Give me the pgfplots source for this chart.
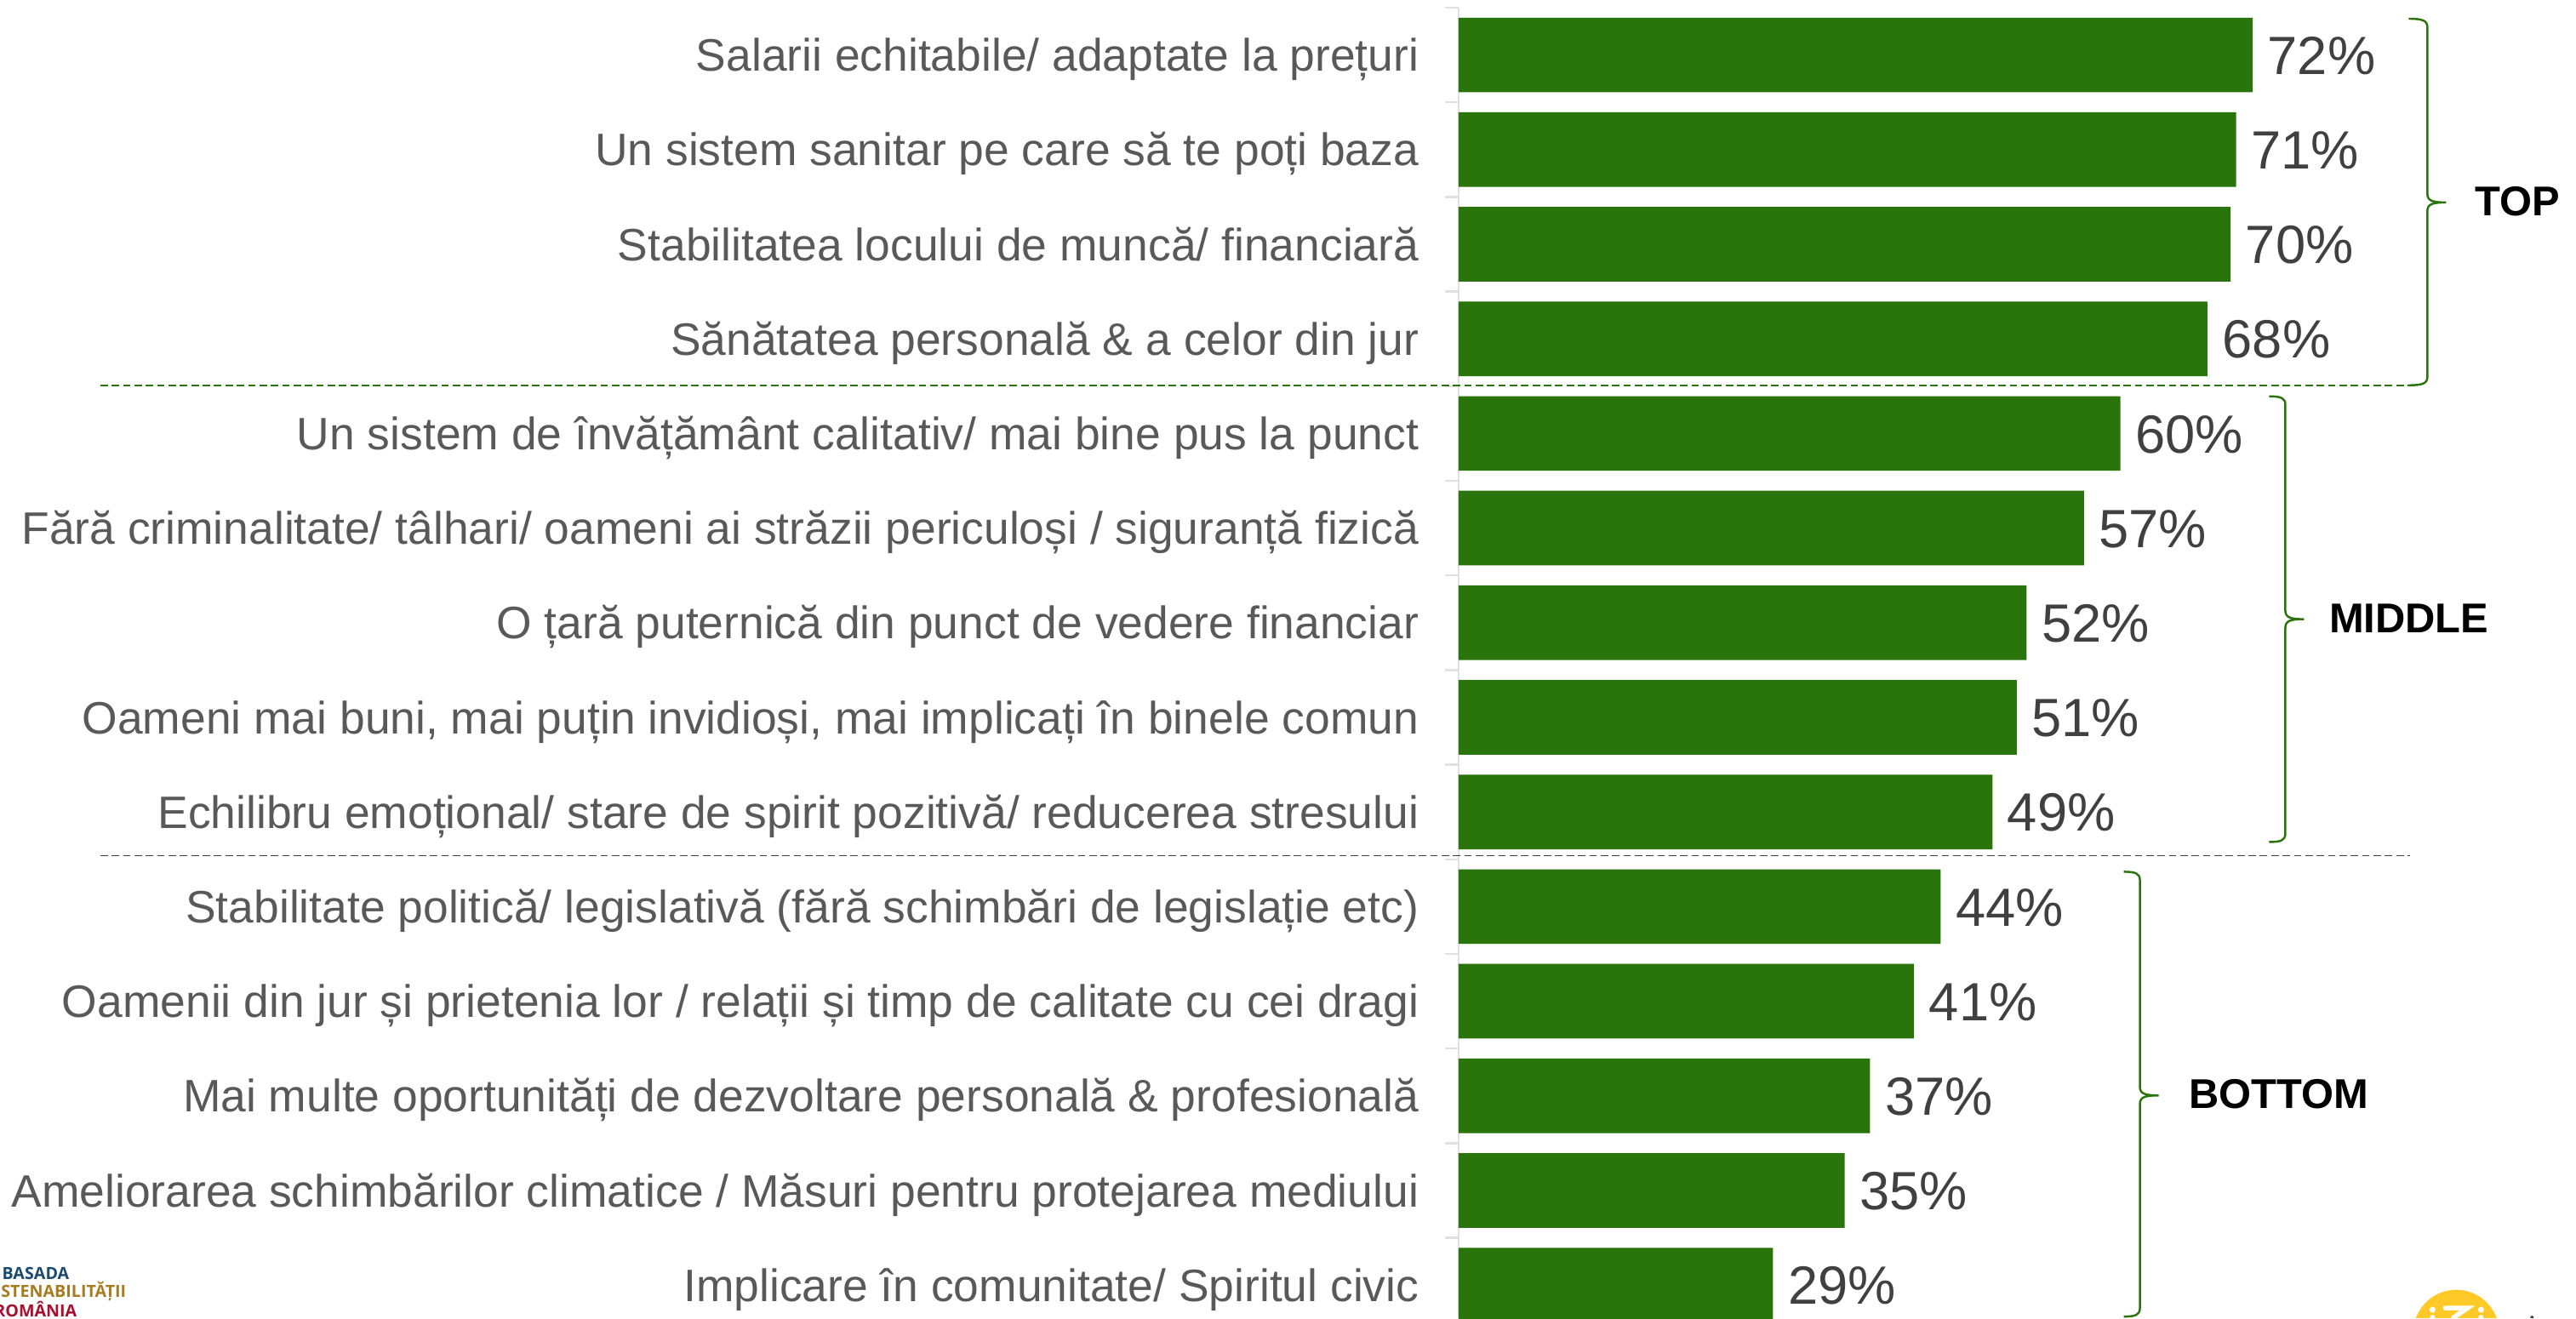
\documentclass[border=0pt]{standalone}
\usepackage{fontspec}
\setmainfont{Liberation Sans}
\newfontfamily\logofont{Open Sans}
\usepackage{pgfplots}
\usepackage{pgfplotstable}
\pgfplotsset{compat=1.18}
\definecolor{bargreen}{HTML}{29750B}
\definecolor{labgrey}{HTML}{595959}
\definecolor{valgrey}{HTML}{404040}
\definecolor{logonavy}{HTML}{1C4A6E}
\definecolor{logogold}{HTML}{A67C20}
\definecolor{logored}{HTML}{A5102F}
\definecolor{logoyellow}{HTML}{FFCA28}
\pgfplotstableread{
i  v     lab
0  72.0  72
1  70.5  71
2  70.0  70
3  67.9  68
4  60.0  60
5  56.7  57
6  51.5  52
7  50.6  51
8  48.4  49
9  43.7  44
10 41.3  41
11 37.3  37
12 35.0  35
13 28.5  29
}\datatable
\begin{document}
\begin{tikzpicture}
\useasboundingbox (0,0) rectangle (30.27,-15.49);
\begin{axis}[
  at={(17.14cm,-0.09cm)}, anchor=north west,
  scale only axis, width=12.96cm, height=15.40cm,
  xmin=0, xmax=100, ymin=-0.5, ymax=13.35, y dir=reverse,
  axis x line=none, axis y line*=left,
  axis line style={draw=black!12, line width=0.7pt, -},
  ytick={0,...,13},
  yticklabels={
    {Salarii echitabile/ adaptate la prețuri},
    {Un sistem sanitar pe care să te poți baza},
    {Stabilitatea locului de muncă/ financiară},
    {Sănătatea personală \& a celor din jur},
    {Un sistem de învățământ calitativ/ mai bine pus la punct},
    {Fără criminalitate/ tâlhari/ oameni ai străzii periculoși / siguranță fizică},
    {O țară puternică din punct de vedere financiar},
    {Oameni mai buni, mai puțin invidioși, mai implicați în binele comun},
    {Echilibru emoțional/ stare de spirit pozitivă/ reducerea stresului},
    {Stabilitate politică/ legislativă (fără schimbări de legislație etc)},
    {Oamenii din jur și prietenia lor / relații și timp de calitate cu cei dragi},
    {Mai multe oportunități de dezvoltare personală \& profesională},
    {Ameliorarea schimbărilor climatice / Măsuri pentru protejarea mediului},
    {Implicare în comunitate/ Spiritul civic}},
  major tick length=0pt,
  minor ytick={-0.5,0.5,...,12.5},
  minor tick length=0.16cm,
  minor tick style={draw=black!12, line width=0.7pt},
  yticklabel style={font=\fontsize{15.2}{18}\selectfont, text=labgrey, anchor=east, xshift=-0.46cm, inner sep=0pt, text height=10.9pt, text depth=0pt},
  xbar, bar width=0.877cm, bar shift=0pt,
  nodes near coords={\pgfmathprintnumber[assume math mode=true]{\pgfplotspointmeta}\%},
  nodes near coords style={font=\fontsize{18}{20}\selectfont, text=valgrey, anchor=west, inner sep=0pt, xshift=0.17cm, text height=12.9pt, text depth=0pt},
  point meta=explicit,
]
\addplot[fill=bargreen, draw=none] table[x=v, y=i, meta=lab] {\datatable};
\end{axis}
\begin{scope}[x=0.01cm, y=-0.01cm]
  \clip (0,0) rectangle (3027,1549);
  % separators
  \draw[bargreen, line width=0.6pt, dash pattern=on 2.5pt off 1.3pt] (118,453) -- (2838,453);
  \draw[valgrey, line width=0.5pt, dash pattern=on 2.5pt off 1.3pt] (118,1006) -- (2834,1006);
  % brackets
  \draw[bargreen, line width=0.7pt] (2832,22) .. controls (2848,22) and (2854,24) .. (2854,32)
    -- (2854,228) .. controls (2854,236) and (2860,238) .. (2876,238)
    .. controls (2860,238) and (2854,240) .. (2854,248)
    -- (2854,443) .. controls (2854,451) and (2848,453) .. (2832,453);
  \draw[bargreen, line width=0.7pt] (2668,466) .. controls (2682,466) and (2687,468) .. (2687,476)
    -- (2687,718) .. controls (2687,726) and (2693,728) .. (2709,728)
    .. controls (2693,728) and (2687,730) .. (2687,738)
    -- (2687,980) .. controls (2687,988) and (2682,990) .. (2668,990);
  \draw[bargreen, line width=0.7pt] (2497,1025) .. controls (2511,1025) and (2516,1027) .. (2516,1035)
    -- (2516,1278) .. controls (2516,1286) and (2522,1288) .. (2538,1288)
    .. controls (2522,1288) and (2516,1290) .. (2516,1298)
    -- (2516,1538) .. controls (2516,1546) and (2511,1548) .. (2497,1548);
  % group names
  \node[font=\fontsize{13.9}{16}\selectfont\bfseries, anchor=west, inner sep=0pt] at (2909,237) {TOP};
  \node[font=\fontsize{13.9}{16}\selectfont\bfseries, anchor=west, inner sep=0pt] at (2738,727) {MIDDLE};
  \node[font=\fontsize{13.9}{16}\selectfont\bfseries, anchor=west, inner sep=0pt] at (2573,1286) {BOTTOM};
  % logos
  \node[font=\logofont\fontsize{5.6}{6}\selectfont\bfseries, text=logonavy, anchor=east, inner sep=0pt] at (82,1497) {BASADA};
  \node[font=\logofont\fontsize{5.6}{6}\selectfont\bfseries, text=logogold, anchor=east, inner sep=0pt] at (149,1518) {STENABILITĂȚII};
  \node[font=\logofont\fontsize{5.6}{6}\selectfont\bfseries, text=logored, anchor=east, inner sep=0pt] at (91,1539) {ROMÂNIA};
  \fill[logoyellow] (2888,1567) circle[radius=50.5];
  \fill[white] (2860,1540) circle[radius=3.5] (2917,1540) circle[radius=3.5] (2860,1549) circle[radius=3] (2917,1549) circle[radius=3];
  \draw[white, line width=1.6pt, line cap=round] (2875,1538) -- (2901,1538) -- (2885,1549);
  \fill[valgrey] (2977,1549) circle[radius=2];
\end{scope}
\end{tikzpicture}
\end{document}
